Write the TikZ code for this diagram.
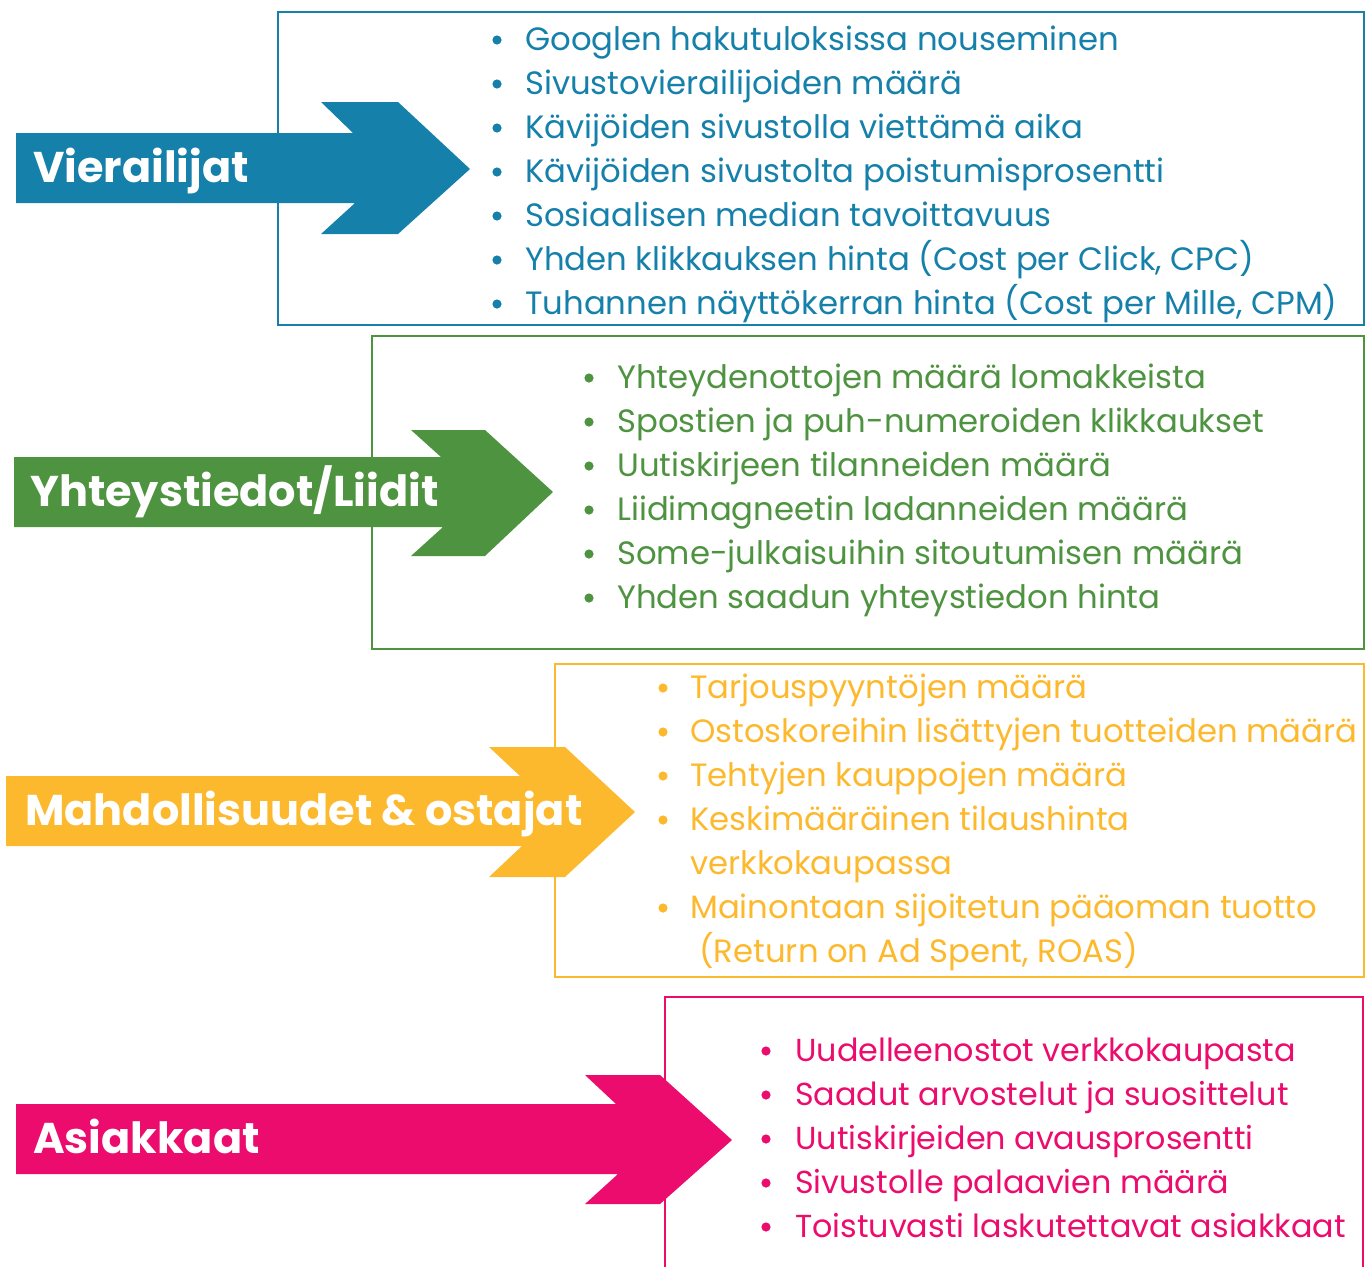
\documentclass[tikz,border=0pt]{standalone}
\usepackage{fontspec}
\setmainfont{Poppins}
\definecolor{cblue}{RGB}{21,128,170}
\definecolor{cgreen}{RGB}{78,147,64}
\definecolor{cyellow}{RGB}{253,185,46}
\definecolor{cpink}{RGB}{236,12,110}
\begin{document}
\begin{tikzpicture}[x=1pt,y=-1pt,
  item/.style={anchor=base west, inner sep=0pt, font=\fontsize{32.3}{36}\selectfont},
  pitem/.style={item, font=\fontsize{31.8}{36}\selectfont},
  title/.style={anchor=base west, inner sep=0pt, text=white, font=\fontsize{43}{50}\selectfont\bfseries},
  frame/.style={line width=1.4pt}]
\useasboundingbox (0,0) rectangle (1371,1267);
% frames
\draw[frame, cblue] (278,12) rectangle (1364,325);
\draw[frame, cgreen] (372,336) rectangle (1364,649);
\draw[frame, cyellow] (555,664) rectangle (1364,977);
\draw[frame, cpink] (665,1267) -- (665,997) -- (1363,997) -- (1363,1267);
% arrows
\fill[cblue] (16,133) -- (353,133) -- (321,102) -- (398,102) -- (470,169) -- (398,234) -- (321,234) -- (355,203) -- (16,203) -- cycle;
\fill[cgreen] (14,457) -- (441,457) -- (411,430) -- (485,430) -- (553,492) -- (485,556) -- (411,556) -- (443,527) -- (14,527) -- cycle;
\fill[cyellow] (6,776) -- (520,776) -- (489,747) -- (565,747) -- (635,812) -- (565,877) -- (489,877) -- (522,846) -- (6,846) -- cycle;
\fill[cpink] (16,1104) -- (616,1104) -- (585,1075) -- (660,1075) -- (732,1140) -- (660,1204) -- (585,1204) -- (618,1174) -- (16,1174) -- cycle;
% titles
\node[title] (t1) at (33,182) {Vierailijat};
\node[title] (t2) at (30,506) {Yhteystiedot/Liidit};
\node[title] (t3) at (25,825) {Mahdollisuudet \& ostajat};
\node[title] (t4) at (33,1153) {Asiakkaat};
% blue items
\foreach \y/\t [count=\i] in {50/Googlen hakutuloksissa nouseminen, 94/Sivustovierailijoiden määrä, 138/Kävijöiden sivustolla viettämä aika, 182/Kävijöiden sivustolta poistumisprosentti, 226/Sosiaalisen median tavoittavuus, 270/{Yhden klikkauksen hinta (Cost per Click, CPC)}, 314/{Tuhannen näyttökerran hinta (Cost per Mille, CPM)}}{
  \coordinate (bb\i) at (497,\y-10);
  \fill[cblue] (bb\i) circle[radius=4.6pt];
  \node[item, text=cblue] (b\i) at (525,\y) {\t};
}
% green items
\foreach \y/\t [count=\i] in {388/Yhteydenottojen määrä lomakkeista, 432/Spostien ja puh-numeroiden klikkaukset, 476/Uutiskirjeen tilanneiden määrä, 520/Liidimagneetin ladanneiden määrä, 564/Some-julkaisuihin sitoutumisen määrä, 608/Yhden saadun yhteystiedon hinta}{
  \coordinate (gb\i) at (589,\y-10);
  \fill[cgreen] (gb\i) circle[radius=4.6pt];
  \node[item, text=cgreen] (g\i) at (617,\y) {\t};
}
% yellow items
\foreach \y/\t [count=\i] in {698/Tarjouspyyntöjen määrä, 742/Ostoskoreihin lisättyjen tuotteiden määrä, 786/Tehtyjen kauppojen määrä, 830/Keskimääräinen tilaushinta, 918/Mainontaan sijoitetun pääoman tuotto}{
  \coordinate (yb\i) at (663,\y-10);
  \fill[cyellow] (yb\i) circle[radius=4.6pt];
  \node[item, text=cyellow] (y\i) at (690,\y) {\t};
}
\node[item, text=cyellow] (y4b) at (690,874) {verkkokaupassa};
\node[item, text=cyellow] (y5b) at (699,962) {(Return on Ad Spent, ROAS)};
% pink items
\foreach \y/\t [count=\i] in {1061/Uudelleenostot verkkokaupasta, 1105/Saadut arvostelut ja suosittelut, 1149/Uutiskirjeiden avausprosentti, 1193/Sivustolle palaavien määrä, 1237/Toistuvasti laskutettavat asiakkaat}{
  \coordinate (pb\i) at (766,\y-10);
  \fill[cpink] (pb\i) circle[radius=4.6pt];
  \node[pitem, text=cpink] (p\i) at (795,\y) {\t};
}
\end{tikzpicture}
\end{document}
